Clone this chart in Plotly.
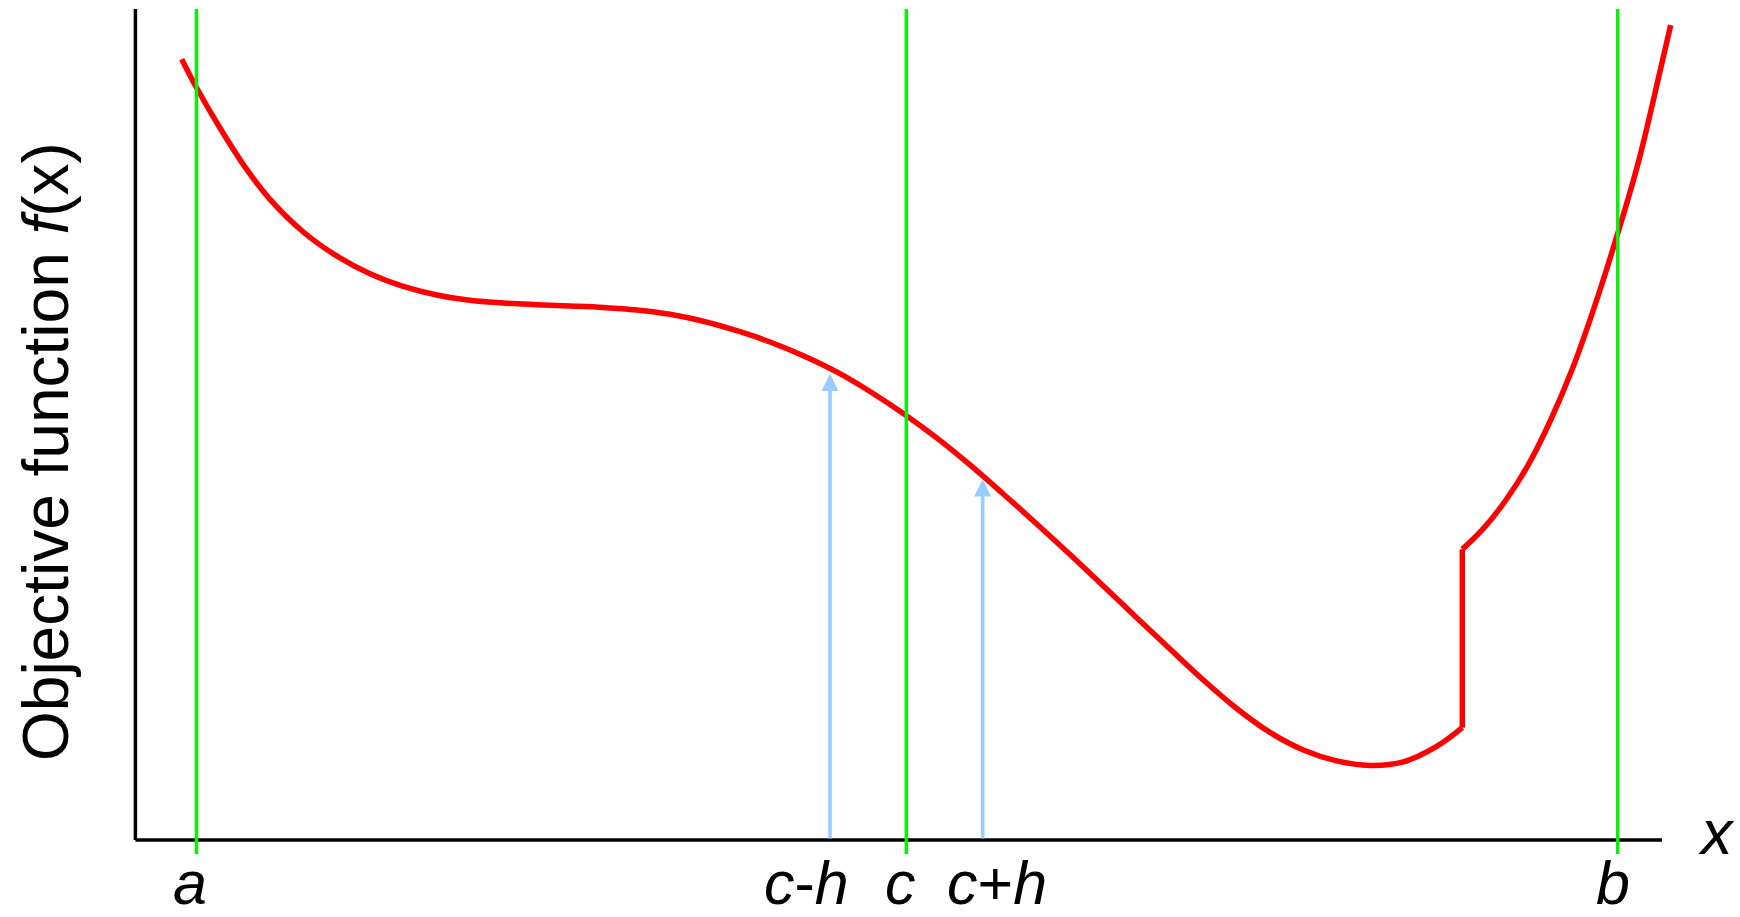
import plotly.graph_objects as go

# Objective function sampled along x (axis runs 0..10 in both directions).
# Smooth branch before the discontinuity
left_x = [0.3033, 0.4015, 0.5542, 0.7291, 0.8817, 1.0998, 1.3186, 1.5368, 1.7549,
          1.9737, 2.1918, 2.4100, 2.6287, 2.8469, 3.0650, 3.2838, 3.5019, 3.7201,
          3.9388, 4.1570, 4.3751, 4.5939, 4.8120, 5.0301, 5.2489, 5.4671, 5.6852,
          5.9040, 6.1221, 6.3403, 6.5590, 6.7772, 6.9953, 7.2141, 7.4322, 7.6503,
          7.8691, 8.0873, 8.3054, 8.5242, 8.6919]
left_y = [9.395, 9.049, 8.568, 8.069, 7.708, 7.316, 7.028, 6.813, 6.661,
          6.558, 6.496, 6.462, 6.442, 6.426, 6.408, 6.378, 6.326, 6.242,
          6.128, 5.993, 5.827, 5.632, 5.397, 5.132, 4.838, 4.513, 4.164,
          3.803, 3.436, 3.057, 2.675, 2.298, 1.925, 1.582, 1.294, 1.083,
          0.951, 0.897, 0.939, 1.125, 1.351]
# Branch after the jump
right_x = [8.6919, 8.8339, 8.9779, 9.1222, 9.2664, 9.4105, 9.5546, 9.6985, 9.8426,
           9.9869, 10.0570]
right_y = [3.497, 3.755, 4.091, 4.508, 5.036, 5.657, 6.400, 7.230, 8.137,
           9.248, 9.807]

# Bracket points and finite-difference step
a = 0.40
b = 9.71
c = 5.05
h = 0.50
# Heights reached by the probe arrows at c-h and c+h
probe_x = [c - h, c + h]
probe_y = [5.61, 4.34]

tick_pos = [a, c - h, c, c + h, b]
tick_text = ["<i>a</i>", "<i>c</i>-<i>h</i>", "<i>c</i>", "<i>c</i>+<i>h</i>", "<i>b</i>"]

AXIS_LEN = 10.0
FONT = "Liberation Sans, Arial, Helvetica, sans-serif"
RED = "#ff0000"
GREEN = "#0af00a"
BLUE = "#99ccff"

fig = go.Figure()

curve_line = dict(color=RED, width=5.5)
fig.add_trace(go.Scatter(x=left_x, y=left_y, mode="lines",
                         line=dict(**curve_line, shape="spline", smoothing=1.0),
                         hoverinfo="skip"))
fig.add_trace(go.Scatter(x=[left_x[-1], right_x[0]], y=[left_y[-1], right_y[0]],
                         mode="lines", line=curve_line, hoverinfo="skip"))
fig.add_trace(go.Scatter(x=right_x, y=right_y, mode="lines",
                         line=dict(**curve_line, shape="spline", smoothing=1.0),
                         hoverinfo="skip"))

shapes = []
# Axes drawn as plain black lines
shapes.append(dict(type="line", xref="x", yref="y", x0=0, y0=0, x1=0, y1=AXIS_LEN,
                   line=dict(color="black", width=3.5), layer="below"))
shapes.append(dict(type="line", xref="x", yref="y", x0=0, y0=0, x1=AXIS_LEN, y1=0,
                   line=dict(color="black", width=3.5), layer="below"))
# Bracket lines a, c, b
for xv in [a, c, b]:
    shapes.append(dict(type="line", xref="x", yref="y", x0=xv, x1=xv,
                       y0=-0.17, y1=AXIS_LEN,
                       line=dict(color=GREEN, width=3.5), layer="above"))

annotations = []
# Probe arrows from the x axis up to the curve
for px, py in zip(probe_x, probe_y):
    annotations.append(dict(x=px, y=py, ax=px, ay=0, xref="x", yref="y",
                            axref="x", ayref="y", text="", showarrow=True,
                            arrowhead=2, arrowsize=0.95, arrowwidth=3.6,
                            arrowcolor=BLUE))

label_shift = [-6, -24, -6, 14, -5]
for xv, txt, dx in zip(tick_pos, tick_text, label_shift):
    annotations.append(dict(x=xv, y=-0.09, xref="x", yref="y", text=txt,
                            showarrow=False, xanchor="center", yanchor="top",
                            xshift=dx, font=dict(family=FONT, size=61, color="black")))

annotations.append(dict(x=10.354, y=0.54, xref="x", yref="y", text="<i>x</i>",
                        showarrow=False, xanchor="center", yanchor="top",
                        font=dict(family=FONT, size=63, color="black")))
annotations.append(dict(x=-0.585, y=4.67, xref="x", yref="y",
                        text="Objective function <i>f</i>(x)", textangle=-90,
                        showarrow=False, xanchor="center", yanchor="middle",
                        font=dict(family=FONT, size=64, color="black")))

fig.update_layout(
    width=1740, height=917,
    margin=dict(l=0, r=0, t=0, b=0),
    paper_bgcolor="white", plot_bgcolor="white",
    showlegend=False,
    xaxis=dict(range=[-0.887, 10.511], visible=False, fixedrange=True),
    yaxis=dict(range=[-0.927, 10.108], visible=False, fixedrange=True),
    shapes=shapes,
    annotations=annotations,
)

fig.write_html("out.html")
